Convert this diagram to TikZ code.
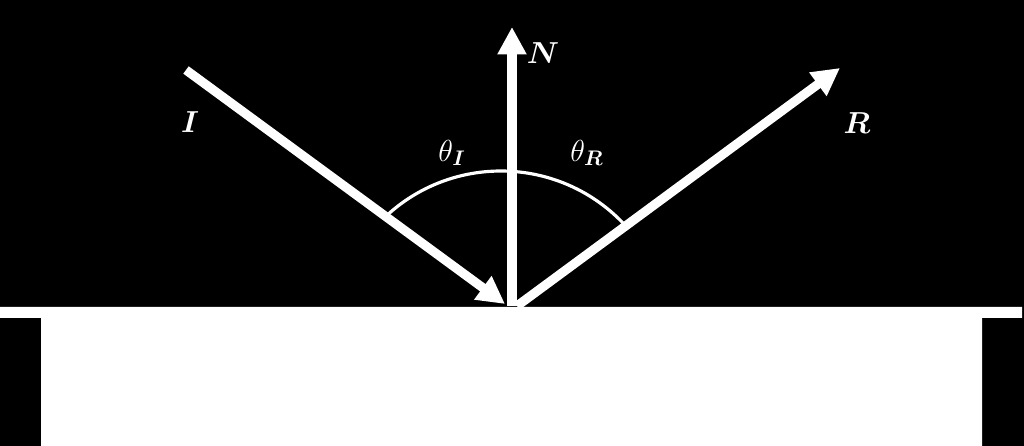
\documentclass[tikz,border=0pt]{standalone}
\usepackage{amsmath}
\usepackage{bm}
\usetikzlibrary{arrows.meta, positioning}

\begin{document}
\begin{tikzpicture}[
  ray/.style={draw=white, line width=5.2pt, -{Triangle[length=5.5mm, width=5.5mm]}},
  anglearc/.style={draw=white, line width=1.8pt},
  raylabel/.style={text=white, font=\fontsize{18}{20}\selectfont},
  anglelabel/.style={text=white, font=\fontsize{18}{20}\selectfont},
  mirror/.style={fill=white}
]
  % Background
  \fill[black] (0,0) rectangle (20.48,8.92);
  \useasboundingbox (0,0) rectangle (20.48,8.92);

  % Reflecting surface
  \fill[mirror] (0,2.78) -- (20.44,2.78) -- (20.44,2.56) -- (19.64,2.56)
    -- (19.64,0) -- (0.82,0) -- (0.82,2.56) -- (0,2.56) -- cycle;

  % Points
  \coordinate (hit) at (10.24,2.80);
  \coordinate (inc) at (10.10,2.84);
  \coordinate (out) at (10.34,2.80);
  \coordinate (isrc) at (3.72,7.52);
  \coordinate (ntip) at (10.24,8.38);
  \coordinate (rtip) at (16.80,7.56);

  % Rays
  \draw[ray] (isrc) -- (inc);
  \draw[ray] (hit) -- (ntip);
  \draw[ray] (out) -- (rtip);

  % Angle arc
  \draw[anglearc] (10.02,2.12) ++(132:3.38) arc[start angle=132, end angle=43, radius=3.38];

  % Labels
  \node[raylabel] (lbI) at (3.80,6.48) {$\bm{I}$};
  \node[raylabel] (lbN) at (10.86,7.86) {$\bm{N}$};
  \node[raylabel] (lbR) at (17.14,6.46) {$\bm{R}$};
  \node[anglelabel] (thI) at (9.04,5.86) {$\theta_{\bm{I}}$};
  \node[anglelabel] (thR) at (11.74,5.86) {$\theta_{\bm{R}}$};
\end{tikzpicture}
\end{document}
